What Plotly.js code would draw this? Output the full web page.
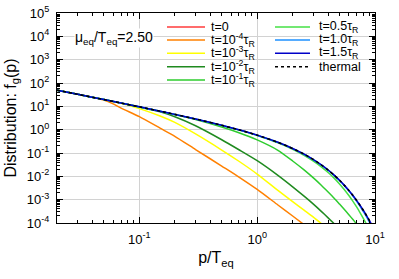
<!DOCTYPE html>
<html><head><meta charset="utf-8">
<script src="https://cdn.plot.ly/plotly-3.0.1.min.js"></script>
<style>html,body{margin:0;padding:0;background:#fff}#chart{width:399px;height:279px}</style>
</head><body><div id="chart"></div>
<script>
// ---- data ----
const seriesNames = ["t=0", "t=10<sup>-4</sup>τ<sub>R</sub>", "t=10<sup>-3</sup>τ<sub>R</sub>",
  "t=10<sup>-2</sup>τ<sub>R</sub>", "t=10<sup>-1</sup>τ<sub>R</sub>", "t=0.5τ<sub>R</sub>",
  "t=1.0τ<sub>R</sub>", "t=1.5τ<sub>R</sub>", "thermal"];
const seriesColors = ["#ff3b3b", "#ff8000", "#ffff00", "#1f8a1f", "#2ecc2e", "#44e044", "#1e90ff", "#0000c8", "#000000"];

const p_t0 = [0.02, 0.03, 0.04];
const f_t0 = [49.5, 32.8, 24.5];

const p_t1em4 = [0.02, 0.03, 0.04, 0.05, 0.06, 0.07, 0.1, 0.15, 0.2, 0.3, 0.5, 0.7, 1, 1.5, 2, 2.5];
const f_t1em4 = [49.5, 32.8, 24.5, 18.8, 12.8, 8.4, 3.6, 1.16, 0.52, 0.141, 0.0275, 0.0093, 0.00275, 0.00059, 0.0002, 0.000085];

const p_t1em3 = [0.02, 0.03, 0.05, 0.07, 0.1, 0.15, 0.2, 0.3, 0.5, 0.7, 1, 1.5, 2, 2.5, 3, 3.5];
const f_t1em3 = [49.5, 32.8, 19.4, 13.4, 8.0, 3.83, 2.04, 0.655, 0.134, 0.0443, 0.0125, 0.0025, 0.00083, 0.000355, 0.000178, 0.000095];

const p_t1em2 = [0.02, 0.03, 0.05, 0.07, 0.1, 0.15, 0.2, 0.3, 0.5, 0.7, 1, 1.5, 2, 2.5, 3, 3.5, 4, 4.5, 5];
const f_t1em2 = [49.5, 32.8, 19.5, 13.7, 9.4, 5.8, 3.58, 1.47, 0.37, 0.138, 0.0468, 0.011, 0.00355, 0.00141, 0.000645, 0.000316, 0.000166, 0.000093, 0.000052];

const p_t1em1 = [0.02, 0.03, 0.05, 0.07, 0.1, 0.15, 0.2, 0.3, 0.5, 0.7, 1, 1.5, 2, 2.5, 3, 3.5, 4, 4.5, 5, 5.5, 6, 6.5, 7, 7.5];
const f_t1em1 = [49.5, 32.8, 19.5, 13.7, 9.45, 6.08, 4.42, 2.72, 1.3, 0.74, 0.363, 0.13, 0.0455, 0.0189, 0.00857, 0.00416, 0.00213, 0.00116, 0.000647, 0.000378, 0.000227, 0.00014, 0.0000885, 0.000057];

const p_t05 = [0.02, 0.03, 0.05, 0.07, 0.1, 0.15, 0.2, 0.3, 0.5, 0.7, 1, 1.5, 2, 2.5, 3, 3.5, 4, 4.5, 5, 5.5, 6, 6.5, 7, 7.5, 8, 8.5, 9];
const f_t05 = [49.5, 32.8, 19.5, 13.7, 9.45, 6.1, 4.45, 2.8, 1.5, 0.955, 0.56, 0.272, 0.144, 0.0795, 0.0445, 0.0254, 0.0146, 0.0084, 0.00475, 0.00266, 0.0015, 0.00084, 0.000475, 0.000268, 0.000151, 0.000085, 0.000047];

const p_t10 = [0.02, 0.03, 0.05, 0.07, 0.1, 0.15, 0.2, 0.3, 0.5, 0.7, 1, 1.5, 2, 2.5, 3, 3.5, 4, 4.5, 5, 5.5, 6, 6.5, 7, 7.5, 8, 8.5, 9, 9.5, 10];
const f_t10 = [49.5, 32.8, 19.5, 13.8, 9.5, 6.17, 4.51, 2.85, 1.53, 0.98, 0.578, 0.285, 0.155, 0.0885, 0.0518, 0.0307, 0.0184, 0.0110, 0.0066, 0.00399, 0.0024, 0.00144, 0.00086, 0.00051, 0.0003, 0.000179, 0.000105, 0.000063, 0.000036];

const p_t15 = [0.02, 0.03, 0.05, 0.07, 0.1, 0.15, 0.2, 0.3, 0.5, 0.7, 1, 1.5, 2, 2.5, 3, 3.5, 4, 4.5, 5, 5.5, 6, 6.5, 7, 7.5, 8, 8.5, 9, 9.5, 10];
const f_t15 = [49.5, 32.8, 19.5, 13.8, 9.51, 6.18, 4.52, 2.86, 1.54, 0.986, 0.582, 0.287, 0.1565, 0.0894, 0.0524, 0.0311, 0.01866, 0.01123, 0.00678, 0.0041, 0.00249, 0.001506, 0.000913, 0.000553, 0.000336, 0.0002035, 0.0001234, 0.0000749, 0.0000454];

const p_thermal = [0.02, 0.03, 0.05, 0.07, 0.1, 0.15, 0.2, 0.3, 0.5, 0.7, 1, 1.5, 2, 2.5, 3, 3.5, 4, 4.5, 5, 5.5, 6, 6.5, 7, 7.5, 8, 8.5, 9, 9.5, 10];
const f_thermal = [49.5, 32.8, 19.5, 13.8, 9.51, 6.18, 4.52, 2.86, 1.54, 0.986, 0.582, 0.287, 0.1565, 0.0894, 0.0524, 0.0311, 0.01866, 0.01123, 0.00678, 0.0041, 0.00249, 0.001506, 0.000913, 0.000553, 0.000336, 0.0002035, 0.0001234, 0.0000749, 0.0000454];

const xTickVals = [0.1, 1, 10];
const xTickText = ["10<sup>-1</sup>", "10<sup>0</sup>", "10<sup>1</sup>"];
const yTickVals = [1e-4, 1e-3, 1e-2, 1e-1, 1, 10, 100, 1000, 1e4, 1e5];
const yTickText = ["10<sup>-4</sup>", "10<sup>-3</sup>", "10<sup>-2</sup>", "10<sup>-1</sup>", "10<sup>0</sup>",
  "10<sup>1</sup>", "10<sup>2</sup>", "10<sup>3</sup>", "10<sup>4</sup>", "10<sup>5</sup>"];
const annotationText = "μ<sub>eq</sub>/T<sub>eq</sub>=2.50";

// ---- build ----
const xs = [p_t0, p_t1em4, p_t1em3, p_t1em2, p_t1em1, p_t05, p_t10, p_t15, p_thermal];
const ys = [f_t0, f_t1em4, f_t1em3, f_t1em2, f_t1em1, f_t05, f_t10, f_t15, f_thermal];

const traces = xs.map((x, i) => ({
  type: 'scatter', mode: 'lines', x: x, y: ys[i], name: seriesNames[i],
  showlegend: false, hoverinfo: 'skip',
  line: {color: seriesColors[i], width: i === 8 ? 1.6 : 1.5, dash: i === 8 ? 'dot' : 'solid', shape: 'spline', smoothing: 0.6}
}));

function minorVals(d0, d1, lo, hi) {
  const out = [];
  for (let d = d0; d <= d1; d++) for (let k = 2; k <= 9; k++) {
    const v = k * Math.pow(10, d);
    if (v > lo && v < hi) out.push(v);
  }
  return out;
}

// plot-area geometry (pixels)
const W = 399, H = 279, L = 57, R = 24, T = 13, B = 56;
const pw = W - L - R, ph = H - T - B;
const px = v => (v - L) / pw;
const py = v => 1 - (v - T) / ph;

const FONT = 'Liberation Sans, Arial, Helvetica, sans-serif';

const shapes = [{
  type: 'rect', xref: 'paper', yref: 'paper', layer: 'between',
  x0: px(160), x1: px(374), y0: py(90), y1: py(13.6),
  fillcolor: '#ffffff', line: {width: 0}
}];
const annotations = [{
  xref: 'paper', yref: 'paper', x: px(114), y: py(37.5), xanchor: 'center', yanchor: 'middle',
  text: annotationText, showarrow: false, bgcolor: '#ffffff', borderpad: 0,
  font: {family: FONT, size: 14, color: '#000'}
}];
const rowsY = [27, 40, 53.3, 66.7, 80];
seriesNames.forEach((name, i) => {
  const col = i < 5 ? 0 : 1;
  const row = i < 5 ? i : i - 5;
  const lx0 = col === 0 ? 167 : 275, lx1 = col === 0 ? 205 : 310, tx = col === 0 ? 209 : 317;
  const yy = rowsY[row];
  shapes.push({
    type: 'line', xref: 'paper', yref: 'paper', layer: 'above',
    x0: px(lx0), x1: px(lx1), y0: py(yy), y1: py(yy),
    line: {color: seriesColors[i], width: 1.5, dash: i === 8 ? 'dot' : 'solid'}
  });
  annotations.push({
    xref: 'paper', yref: 'paper', x: px(tx), y: py(yy), xanchor: 'left', yanchor: 'middle',
    text: name, showarrow: false, font: {family: FONT, size: 12.5, color: '#000'}
  });
});

const axisCommon = {
  type: 'log', tickmode: 'array', ticks: 'inside', ticklen: 6, tickwidth: 1, tickcolor: '#000',
  showline: true, linecolor: '#000', linewidth: 1, mirror: 'allticks',
  showgrid: true, gridcolor: '#d2d2d2', gridwidth: 1, zeroline: false,
  tickfont: {family: FONT, size: 13, color: '#000'}, automargin: false
};

const layout = {
  width: W, height: H,
  margin: {l: L, r: R, t: T, b: B, pad: 0},
  paper_bgcolor: '#fff', plot_bgcolor: '#fff',
  font: {family: FONT, color: '#000'},
  showlegend: false,
  xaxis: Object.assign({}, axisCommon, {
    range: [Math.log10(0.02), 1], tickvals: xTickVals, ticktext: xTickText, ticklabelstandoff: 4,
    minor: {tickmode: 'array', tickvals: minorVals(-2, 0, 0.02, 10), ticks: 'inside', ticklen: 3, tickcolor: '#000', showgrid: false},
    title: {text: 'p/T<sub>eq</sub>', font: {family: FONT, size: 16, color: '#000'}, standoff: 6}
  }),
  yaxis: Object.assign({}, axisCommon, {
    range: [-4, 5], tickvals: yTickVals, ticktext: yTickText, ticklabelstandoff: 4,
    minor: {tickmode: 'array', tickvals: minorVals(-4, 4, 1e-4, 1e5), ticks: 'inside', ticklen: 3, tickcolor: '#000', showgrid: false},
    title: {text: 'Distribution: f<sub>g</sub>(p)', font: {family: FONT, size: 16, color: '#000'}, standoff: 6}
  }),
  shapes: shapes,
  annotations: annotations
};

Plotly.newPlot('chart', traces, layout, {displayModeBar: false, staticPlot: true});
</script>
</body></html>
